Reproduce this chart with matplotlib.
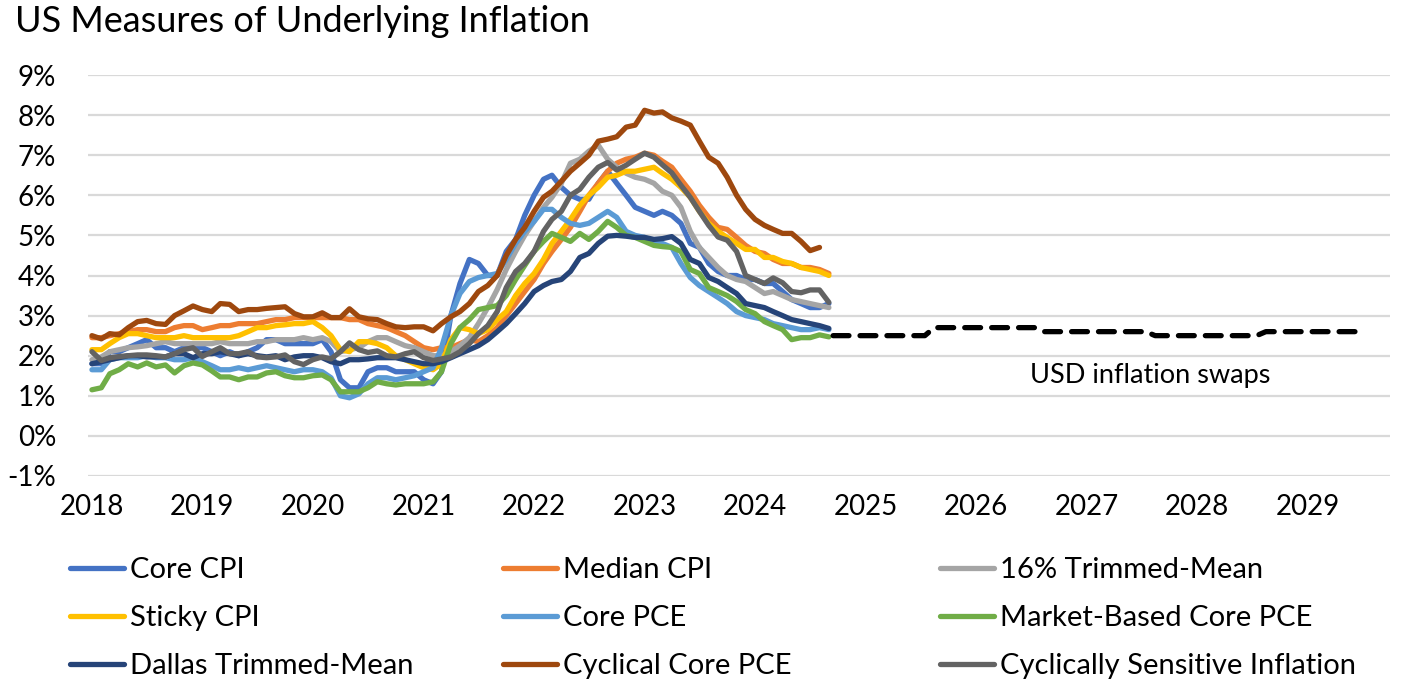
import matplotlib
matplotlib.use('Agg')
import matplotlib.pyplot as plt
import pandas as pd

# monthly y/y readings, Jan 2018 onwards (%)
core_cpi = [1.8, 1.8, 2.1, 2.1, 2.2, 2.3, 2.4, 2.2, 2.2, 2.1, 2.2, 2.2,
            2.2, 2.1, 2.0, 2.1, 2.0, 2.1, 2.2, 2.4, 2.4, 2.3, 2.3, 2.3,
            2.3, 2.4, 2.1, 1.4, 1.2, 1.2, 1.6, 1.7, 1.7, 1.6, 1.6, 1.6,
            1.4, 1.3, 1.6, 3.0, 3.8, 4.4, 4.3, 4.0, 4.0, 4.6, 4.9, 5.5,
            6.0, 6.4, 6.5, 6.2, 6.0, 5.9, 5.9, 6.3, 6.6, 6.3, 6.0, 5.7,
            5.6, 5.5, 5.6, 5.5, 5.3, 4.8, 4.7, 4.3, 4.1, 4.0, 4.0, 3.9,
            3.9, 3.8, 3.8, 3.6, 3.4, 3.3, 3.2, 3.2, 3.3]
median_cpi = [2.45, 2.45, 2.5, 2.55, 2.6, 2.65, 2.65, 2.6, 2.6, 2.7, 2.75, 2.75,
              2.65, 2.7, 2.75, 2.75, 2.8, 2.8, 2.8, 2.85, 2.9, 2.9, 2.95, 2.95,
              2.95, 2.95, 2.95, 2.95, 2.9, 2.9, 2.8, 2.75, 2.7, 2.6, 2.5, 2.35,
              2.2, 2.15, 2.2, 2.2, 2.3, 2.4, 2.35, 2.5, 2.7, 3.0, 3.3, 3.6,
              3.9, 4.3, 4.6, 4.9, 5.2, 5.6, 6.0, 6.3, 6.6, 6.8, 6.9, 6.95,
              7.05, 7.0, 6.85, 6.7, 6.4, 6.1, 5.75, 5.45, 5.2, 5.15, 4.95, 4.75,
              4.6, 4.55, 4.4, 4.3, 4.3, 4.2, 4.2, 4.15, 4.05]
trimmed_16 = [1.9, 1.97, 2.1, 2.15, 2.2, 2.22, 2.25, 2.3, 2.35, 2.3, 2.3, 2.3,
              2.3, 2.3, 2.35, 2.3, 2.3, 2.3, 2.35, 2.35, 2.4, 2.4, 2.4, 2.45,
              2.4, 2.45, 2.35, 2.1, 2.15, 2.2, 2.35, 2.45, 2.45, 2.35, 2.25, 2.2,
              2.1, 2.0, 2.0, 2.1, 2.25, 2.45, 2.8, 3.2, 3.65, 4.15, 4.6, 5.0,
              5.35, 5.7, 5.95, 6.3, 6.8, 6.9, 7.1, 7.25, 6.9, 6.7, 6.55, 6.45,
              6.4, 6.3, 6.1, 6.0, 5.7, 5.1, 4.7, 4.45, 4.2, 4.0, 3.9, 3.85,
              3.7, 3.55, 3.6, 3.5, 3.4, 3.35, 3.3, 3.25, 3.2]
sticky_cpi = [2.15, 2.15, 2.3, 2.45, 2.55, 2.55, 2.5, 2.45, 2.45, 2.45, 2.5, 2.45,
              2.45, 2.45, 2.45, 2.45, 2.5, 2.6, 2.7, 2.7, 2.75, 2.77, 2.8, 2.8,
              2.85, 2.7, 2.5, 2.15, 2.1, 2.35, 2.35, 2.3, 2.2, 2.0, 1.9, 1.8,
              1.7, 1.65, 1.8, 2.4, 2.7, 2.65, 2.55, 2.65, 2.9, 3.1, 3.5, 3.8,
              4.05, 4.4, 4.8, 5.1, 5.4, 5.75, 6.0, 6.2, 6.45, 6.5, 6.6, 6.6,
              6.65, 6.7, 6.55, 6.4, 6.2, 5.95, 5.6, 5.3, 5.1, 4.95, 4.8, 4.65,
              4.65, 4.45, 4.45, 4.35, 4.3, 4.2, 4.15, 4.1, 4.0]
core_pce = [1.65, 1.65, 1.9, 1.95, 1.95, 1.95, 2.0, 1.95, 1.95, 1.9, 1.9, 1.95,
            1.85, 1.75, 1.65, 1.65, 1.7, 1.65, 1.7, 1.75, 1.7, 1.65, 1.6, 1.65,
            1.65, 1.6, 1.45, 1.0, 0.95, 1.05, 1.3, 1.45, 1.45, 1.4, 1.45, 1.5,
            1.6, 1.7, 2.2, 3.0, 3.55, 3.85, 3.95, 4.0, 4.05, 4.4, 4.8, 5.1,
            5.35, 5.65, 5.65, 5.45, 5.3, 5.25, 5.3, 5.45, 5.6, 5.45, 5.1, 5.0,
            4.95, 4.85, 4.8, 4.7, 4.3, 3.95, 3.75, 3.6, 3.45, 3.3, 3.1, 3.0,
            2.95, 2.9, 2.8, 2.75, 2.7, 2.65, 2.65, 2.7, 2.65]
market_core_pce = [1.15, 1.2, 1.55, 1.65, 1.8, 1.72, 1.82, 1.72, 1.77, 1.57, 1.75, 1.82,
                   1.77, 1.62, 1.47, 1.47, 1.4, 1.47, 1.47, 1.57, 1.6, 1.5, 1.45, 1.45,
                   1.5, 1.52, 1.4, 1.1, 1.1, 1.1, 1.2, 1.35, 1.3, 1.27, 1.3, 1.3,
                   1.3, 1.35, 1.6, 2.3, 2.7, 2.9, 3.15, 3.2, 3.25, 3.5, 3.9, 4.25,
                   4.6, 4.85, 5.05, 4.95, 4.85, 5.05, 4.9, 5.1, 5.35, 5.2, 5.0, 4.95,
                   4.85, 4.75, 4.72, 4.7, 4.6, 4.15, 4.05, 3.7, 3.6, 3.5, 3.35, 3.15,
                   3.05, 2.85, 2.75, 2.65, 2.4, 2.45, 2.45, 2.52, 2.47]
dallas_tm = [1.8, 1.85, 1.9, 1.95, 2.0, 2.0, 1.97, 1.97, 1.97, 2.05, 2.05, 1.95,
             2.05, 2.05, 2.1, 2.05, 2.0, 2.05, 2.0, 1.97, 2.0, 1.9, 1.97, 2.0,
             2.0, 1.95, 1.85, 1.8, 1.9, 1.9, 1.92, 1.95, 1.95, 1.95, 1.9, 1.85,
             1.8, 1.8, 1.85, 1.95, 2.05, 2.15, 2.25, 2.4, 2.6, 2.8, 3.05, 3.3,
             3.6, 3.75, 3.85, 3.9, 4.1, 4.45, 4.55, 4.8, 4.98, 5.0, 4.98, 4.95,
             4.95, 4.9, 4.92, 4.97, 4.8, 4.4, 4.3, 3.95, 3.85, 3.7, 3.55, 3.3,
             3.25, 3.2, 3.1, 3.0, 2.9, 2.85, 2.8, 2.75, 2.68]
cyclical_core_pce = [2.5, 2.42, 2.55, 2.52, 2.7, 2.85, 2.88, 2.8, 2.78, 3.0, 3.12, 3.24,
                     3.15, 3.1, 3.3, 3.28, 3.1, 3.15, 3.15, 3.18, 3.2, 3.22, 3.05, 2.97,
                     2.97, 3.07, 2.95, 2.95, 3.17, 2.97, 2.92, 2.9, 2.8, 2.72, 2.7, 2.72,
                     2.72, 2.62, 2.8, 2.97, 3.1, 3.3, 3.6, 3.75, 4.0, 4.5, 4.9, 5.2,
                     5.6, 5.95, 6.1, 6.35, 6.6, 6.8, 7.0, 7.35, 7.4, 7.46, 7.7, 7.75,
                     8.12, 8.05, 8.08, 7.93, 7.85, 7.75, 7.35, 6.95, 6.8, 6.45, 6.0, 5.65,
                     5.4, 5.25, 5.15, 5.05, 5.05, 4.85, 4.62, 4.7]
cyc_sensitive = [2.1, 1.88, 1.95, 1.98, 2.0, 2.02, 2.02, 2.0, 1.97, 2.05, 2.15, 2.2,
                 1.98, 2.1, 2.2, 2.05, 2.05, 2.1, 1.97, 1.95, 1.97, 2.02, 1.85, 1.78,
                 1.9, 1.97, 1.92, 2.1, 2.32, 2.15, 2.08, 2.12, 2.0, 1.97, 2.05, 2.1,
                 1.95, 1.88, 1.92, 1.97, 2.1, 2.3, 2.55, 2.75, 3.1, 3.7, 4.1, 4.3,
                 4.6, 5.1, 5.4, 5.6, 6.0, 6.15, 6.45, 6.7, 6.82, 6.63, 6.75, 6.9,
                 7.05, 6.95, 6.76, 6.56, 6.25, 5.95, 5.6, 5.25, 4.96, 4.88, 4.6, 4.0,
                 3.9, 3.8, 3.94, 3.82, 3.6, 3.57, 3.64, 3.64, 3.33]

# inflation swap path
swap_dates = ['2024-09-15', '2025-07-15', '2025-08-15', '2026-07-15', '2026-08-15',
              '2027-07-15', '2027-08-15', '2028-07-15', '2028-08-15', '2029-07-10']
swap_vals = [2.5, 2.5, 2.7, 2.7, 2.6, 2.6, 2.5, 2.5, 2.6, 2.6]

names = ['Core CPI', 'Median CPI', '16% Trimmed-Mean',
         'Sticky CPI', 'Core PCE', 'Market-Based Core PCE',
         'Dallas Trimmed-Mean', 'Cyclical Core PCE', 'Cyclically Sensitive Inflation']
series = [core_cpi, median_cpi, trimmed_16, sticky_cpi, core_pce, market_core_pce,
          dallas_tm, cyclical_core_pce, cyc_sensitive]
colors = ['#4472C4', '#ED7D31', '#A5A5A5', '#FFC000', '#5B9BD5', '#70AD47',
          '#264478', '#9E480E', '#636363']
years = list(range(2018, 2030))

plt.rcParams['font.family'] = ['Lato', 'DejaVu Sans']

dates = pd.date_range('2018-01-01', periods=81, freq='MS')

fig = plt.figure(figsize=(14.04, 6.81), dpi=100)
ax = fig.add_axes([88/1404, 1 - 476/681, (1390 - 88)/1404, 401/681])

lines = []
for name, vals, c in zip(names, series, colors):
    l, = ax.plot(dates[:len(vals)], vals, color=c, lw=3.8, label=name,
                 solid_joinstyle='round', solid_capstyle='round')
    lines.append(l)

ax.plot(pd.to_datetime(swap_dates), swap_vals, color='black', lw=3.8,
        dashes=(3.0, 2.1), dash_capstyle='round')
ax.text(pd.Timestamp('2026-06-28'), 1.5, 'USD inflation swaps', fontsize=19.5,
        va='center', ha='left')

ax.set_ylim(-1, 9)
ax.set_yticks(range(-1, 10))
ax.set_yticklabels([f'{v}%' for v in range(-1, 10)])
ax.set_xlim(pd.Timestamp('2017-12-19'), pd.Timestamp('2029-09-29'))
ax.set_xticks(pd.to_datetime([f'{y}-01-01' for y in years]))
ax.set_xticklabels([str(y) for y in years])
ax.grid(axis='y', color='#D9D9D9', lw=1.6)
ax.set_axisbelow(True)
for s in ax.spines.values():
    s.set_visible(False)
ax.tick_params(length=0, labelsize=20, colors='black')
ax.tick_params(axis='y', pad=23)
ax.tick_params(axis='x', pad=13)

fig.text(15/1404, 1 - 22/681, 'US Measures of Underlying Inflation', fontsize=26,
         va='center', ha='left')

# legend, one block per column
col_x = [70, 503, 940]
for i in range(3):
    fig.legend(lines[i::3], names[i::3], loc='upper left',
               bbox_to_anchor=(col_x[i]/1404, 1 - 557/681), frameon=False,
               fontsize=21, handlelength=1.85, handletextpad=0.2,
               labelspacing=0.75, borderpad=0, borderaxespad=0)

fig.savefig('out.png', dpi=100)
